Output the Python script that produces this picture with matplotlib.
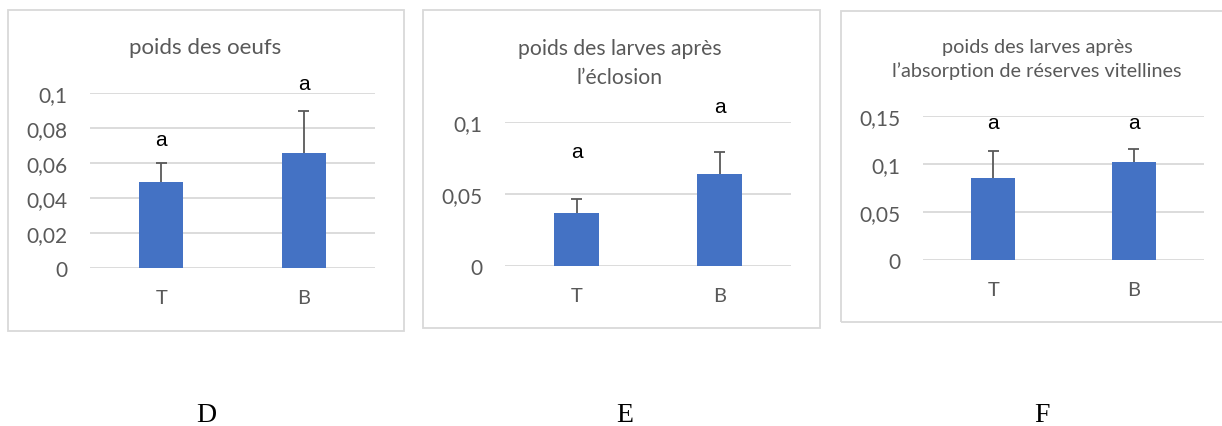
import matplotlib
matplotlib.use("Agg")
import matplotlib.pyplot as plt
from matplotlib.patches import Rectangle

# ---- data -------------------------------------------------------------
categories = ["T", "B"]

oeufs_mean = [0.049, 0.066]
oeufs_err = [0.011, 0.0235]

eclosion_mean = [0.037, 0.064]
eclosion_err = [0.0095, 0.0155]

absorption_mean = [0.085, 0.102]
absorption_err = [0.028, 0.013]

letters_oeufs = ["a", "a"]
letters_eclosion = ["a", "a"]
letters_absorption = ["a", "a"]

ticks_oeufs = [0, 0.02, 0.04, 0.06, 0.08, 0.1]
ticks_eclosion = [0, 0.05, 0.1]
ticks_absorption = [0, 0.05, 0.1, 0.15]

titles = [
    "poids des oeufs",
    "poids des larves après\nl’éclosion",
    "poids des larves après\nl’absorption de réserves vitellines",
]
panel_labels = ["D", "E", "F"]

# ---- layout (pixels) ---------------------------------------------------
W, H = 1222, 427
fig = plt.figure(figsize=(W / 100, H / 100), dpi=100)
fig.patch.set_facecolor("white")

BAR = "#4472c4"
GRID = "#d9d9d9"
TEXT = "#595959"
FONT = ["Lato", "DejaVu Sans"]


def px_axes(left, right, top, bottom):
    return fig.add_axes([left / W, 1 - bottom / H, (right - left) / W, (bottom - top) / H])


def frame(x0, y0, x1, y1):
    fig.patches.append(Rectangle((x0 / W, 1 - y1 / H), (x1 - x0) / W, (y1 - y0) / H,
                                 transform=fig.transFigure, fill=False,
                                 edgecolor=GRID, linewidth=1.3, zorder=0))


def panel(ax, means, errs, letters, letter_y, ticks, ymax):
    x = list(range(len(categories)))
    ax.bar(x, means, width=0.31, color=BAR, zorder=3)
    tops = [m + e for m, e in zip(means, errs)]
    ax.vlines(x, means, tops, color=TEXT, linewidth=1.3, zorder=2)
    ax.hlines(tops, [xi - 0.039 for xi in x], [xi + 0.039 for xi in x],
              color=TEXT, linewidth=1.3, zorder=2)
    for xi, lab, ly in zip(x, letters, letter_y):
        ax.text(xi, ly, lab, ha="center", va="center", fontsize=15,
                family=["Liberation Sans", "DejaVu Sans"], color="black", clip_on=False)
    ax.set_xlim(-0.5, len(categories) - 0.5)
    ax.set_ylim(0, ymax)
    ax.set_yticks(ticks)
    ax.set_yticklabels([("%g" % t).replace(".", ",") for t in ticks],
                       fontsize=15, color=TEXT, family=FONT)
    ax.set_xticks(x)
    ax.set_xticklabels(categories, fontsize=14.5, color=TEXT, family=FONT)
    ax.tick_params(axis="y", length=0, pad=16.5)
    ax.tick_params(axis="x", length=0, pad=15)
    ax.yaxis.grid(True, color=GRID, linewidth=1.3, zorder=0)
    ax.set_axisbelow(True)
    for s in ax.spines.values():
        s.set_visible(False)
    ax.set_facecolor("none")


# chart frames
frame(8, 11, 404, 331.5)
frame(422.5, 11, 820, 329)
frame(841, 12, 1232, 323)

axD = px_axes(90, 375, 94, 269.3)
panel(axD, oeufs_mean, oeufs_err, letters_oeufs, [0.0737, 0.1056], ticks_oeufs, 0.1)

axE = px_axes(505, 791, 123.3, 266.7)
panel(axE, eclosion_mean, eclosion_err, letters_eclosion, [0.0793, 0.111], ticks_eclosion, 0.1)

axF = px_axes(923, 1204, 116.7, 260.7)
panel(axF, absorption_mean, absorption_err, letters_absorption, [0.1424, 0.1424],
      ticks_absorption, 0.15)

# chart titles
fig.text(205 / W, 1 - 48 / H, titles[0], ha="center", va="center",
         fontsize=16, color=TEXT, family=FONT)
fig.text(620 / W, 1 - 63.5 / H, titles[1], ha="center", va="center",
         fontsize=15.2, color=TEXT, family=FONT, linespacing=1.62)
fig.text(1037 / W, 1 - 59.5 / H, titles[2], ha="center", va="center",
         fontsize=14.3, color=TEXT, family=FONT, linespacing=1.4)

# panel letters below the charts
for xc, lab in zip([206, 625, 1042], panel_labels):
    fig.text(xc / W, 1 - 416 / H, lab, ha="center", va="center",
             fontsize=20, color="black", family=["Liberation Serif", "DejaVu Serif"])

fig.savefig("out.png", dpi=100)
